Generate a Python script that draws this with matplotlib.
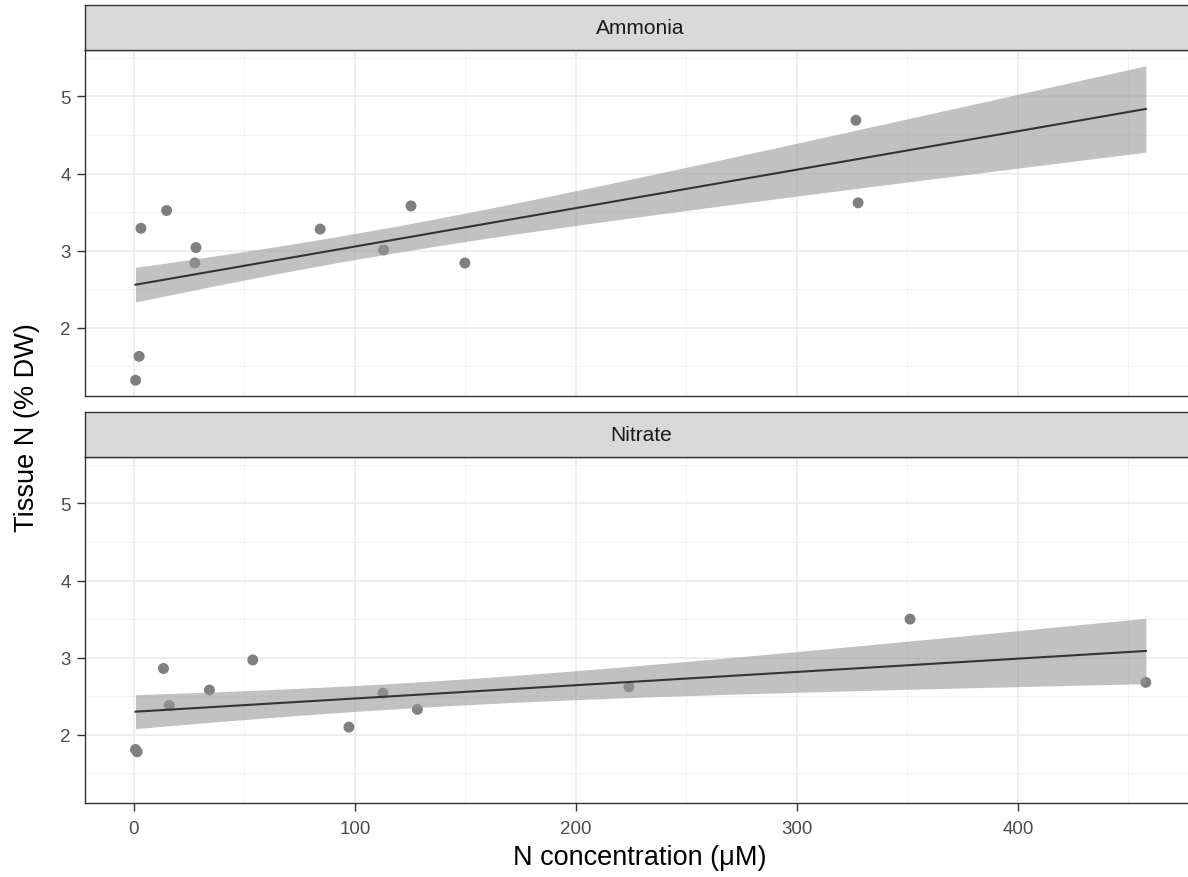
import numpy as np
import matplotlib
matplotlib.use("Agg")
import matplotlib.pyplot as plt

plt.rcParams['font.family'] = ['Liberation Sans', 'DejaVu Sans']

# ---- data ----
facets = ["Ammonia", "Nitrate"]
ammonia_x = [0.8, 2.4, 3.2, 14.8, 27.6, 28.1, 84.3, 113.0, 125.4, 149.8, 326.7, 327.7]
ammonia_y = [1.32, 1.63, 3.29, 3.52, 2.84, 3.04, 3.28, 3.01, 3.58, 2.84, 4.69, 3.62]
nitrate_x = [0.75, 1.5, 13.4, 16.0, 34.2, 53.8, 97.3, 112.7, 128.3, 224.0, 351.2, 457.9]
nitrate_y = [1.81, 1.78, 2.86, 2.38, 2.58, 2.97, 2.10, 2.54, 2.33, 2.62, 3.50, 2.68]
# half-width of the confidence band at the left end of each fit
band_halfwidth_left = {"Ammonia": 0.225, "Nitrate": 0.22}
x_ticks = [0, 100, 200, 300, 400]
y_ticks = [2, 3, 4, 5]
x_label = "N concentration (\u03bcM)"
y_label = "Tissue N (% DW)"

series = {"Ammonia": (np.array(ammonia_x), np.array(ammonia_y)),
          "Nitrate": (np.array(nitrate_x), np.array(nitrate_y))}

all_x = np.concatenate([series[f][0] for f in facets])
xmin_all, xmax_all = all_x.min(), all_x.max()
xgrid = np.linspace(xmin_all, xmax_all, 80)

fits = {}
for f in facets:
    x, y = series[f]
    n = len(x)
    b, a = np.polyfit(x, y, 1)
    sxx = np.sum((x - x.mean()) ** 2)
    yhat = a + b * xgrid
    shape = np.sqrt(1.0 / n + (xgrid - x.mean()) ** 2 / sxx)  # lm standard-error shape
    half = band_halfwidth_left[f] * shape / shape[0]
    fits[f] = (yhat, yhat - half, yhat + half)

# shared y range (data + ribbons) with 5% expansion, like ggplot
ylo = min(min(series[f][1].min(), fits[f][1].min()) for f in facets)
yhi = max(max(series[f][1].max(), fits[f][2].max()) for f in facets)
yr = yhi - ylo
ylim = (ylo - 0.05 * yr, yhi + 0.05 * yr)
xr = xmax_all - xmin_all
xlim = (xmin_all - 0.05 * xr, xmax_all + 0.05 * xr)

W, H = 1188, 878
fig = plt.figure(figsize=(W / 100, H / 100), dpi=100)

left_px = 85
right_px = left_px + (xlim[1] - xlim[0]) * 2.21
panel_h = 346
strip_h = 45
layout = {"Ammonia": (51, 6), "Nitrate": (458, 413)}  # panel top, strip top

grey20 = "#333333"
for i, f in enumerate(facets):
    ptop, stop = layout[f]
    ax = fig.add_axes([left_px / W, 1 - (ptop + panel_h) / H,
                       (right_px - left_px) / W, panel_h / H])
    ax.set_xlim(*xlim)
    ax.set_ylim(*ylim)
    ax.set_facecolor("white")
    ax.set_xticks(x_ticks)
    ax.set_yticks(y_ticks)
    ax.set_xticks([50, 150, 250, 350, 450], minor=True)
    ax.set_yticks([1.5, 2.5, 3.5, 4.5, 5.5], minor=True)
    ax.grid(True, which="major", color="#EBEBEB", linewidth=1.2, zorder=0)
    ax.grid(True, which="minor", color="#F2F2F2", linewidth=0.7, zorder=0)
    ax.set_axisbelow(True)
    for sp in ax.spines.values():
        sp.set_color(grey20)
        sp.set_linewidth(1.0)
    ax.tick_params(axis="both", which="major", length=5.8, width=1.0, color=grey20,
                   labelsize=13.5, labelcolor="#4D4D4D")
    ax.tick_params(axis="x", which="major", pad=6.8)
    ax.tick_params(axis="y", which="major", pad=4.3)
    ax.tick_params(axis="both", which="minor", length=0)
    if i == 0:
        ax.tick_params(axis="x", which="major", labelbottom=False, length=0)

    x, y = series[f]
    yhat, lo, hi = fits[f]
    ax.scatter(x, y, s=62, color="#7F7F7F", edgecolors="none", zorder=2)
    ax.fill_between(xgrid, lo, hi, color="#999999", alpha=0.6, linewidth=0, zorder=3)
    ax.plot(xgrid, yhat, color=grey20, linewidth=1.5, zorder=4)

    sax = fig.add_axes([left_px / W, 1 - (stop + strip_h) / H,
                        (right_px - left_px) / W, strip_h / H])
    sax.set_facecolor("#D9D9D9")
    sax.set_xticks([])
    sax.set_yticks([])
    for sp in sax.spines.values():
        sp.set_color(grey20)
        sp.set_linewidth(1.0)
    sax.text(0.5, 0.5, f, transform=sax.transAxes, ha="center", va="center",
             fontsize=15, color="#1A1A1A")

fig.text(640 / W, 1 - 858 / H, x_label, ha="center", va="center", fontsize=19.5,
         color="black")
fig.text(27 / W, 1 - 427.5 / H, y_label, ha="center", va="center", fontsize=19.5,
         rotation=90, color="black")

fig.savefig("out.png", dpi=100)
